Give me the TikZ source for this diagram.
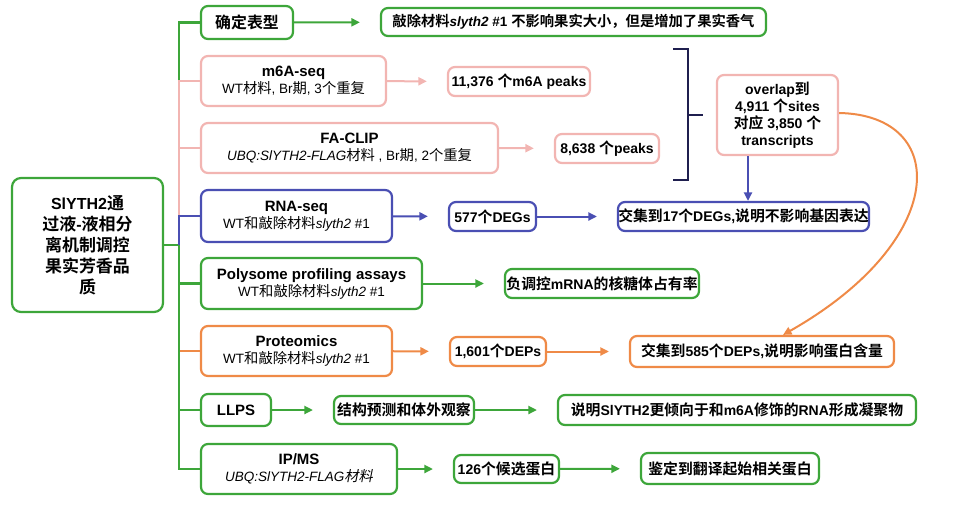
\documentclass[tikz,border=0pt]{standalone}
\usepackage{fontspec}
\setmainfont{Liberation Sans}
\newfontfamily\zhfont{Noto Sans CJK SC}[Scale=1.06, UprightFont=*, BoldFont=* Bold, ItalicFont=*, ItalicFeatures={FakeSlant=0.2}, BoldItalicFont=* Bold, BoldItalicFeatures={FakeSlant=0.2}]
\usetikzlibrary{arrows.meta}
\XeTeXinterchartokenstate=1
\newXeTeXintercharclass\zhclass
\newcount\zhc
\def\zhrange#1#2{\zhc=#1\relax\loop\XeTeXcharclass\zhc=\zhclass\ifnum\zhc<#2\advance\zhc by 1\repeat}
\zhrange{"4E00}{"9FFF}
\zhrange{"3000}{"303F}
\zhrange{"FF00}{"FFEF}
\XeTeXinterchartoks 0 \zhclass = {\zhfont}
\XeTeXinterchartoks 4095 \zhclass = {\zhfont}
\XeTeXinterchartoks \zhclass 0 = {\rmfamily}
\XeTeXinterchartoks \zhclass 4095 = {\rmfamily}
\definecolor{cg}{HTML}{3DA63A}
\definecolor{cp}{HTML}{F2B5B2}
\definecolor{cb}{HTML}{4A4FB3}
\definecolor{co}{HTML}{EF8A47}
\definecolor{cn}{HTML}{1F1F4F}
\tikzset{
  bx/.style={draw, line width=2.2pt, rounded corners=7pt, align=center, inner sep=0pt, fill=white, text=black},
  gbox/.style={bx, draw=cg},
  pbox/.style={bx, draw=cp},
  bbox/.style={bx, draw=cb},
  obox/.style={bx, draw=co},
  sz/.style 2 args={minimum width=#1, minimum height=#2},
  two/.style={font=\fontsize{13.5}{17}\selectfont},
  one/.style={font=\fontsize{15}{17}\selectfont\bfseries},
  res/.style={font=\fontsize{14}{17}\selectfont\bfseries},
  br/.style={line width=2.5pt},
  arr/.style={line width=2pt, -{Triangle[length=8.5pt,width=8pt]}, shorten >=20pt},
  tip/.style={line width=2pt, -{Triangle[length=8.5pt,width=8pt]}},
}
\newcommand{\hd}[1]{{\fontsize{15}{17}\selectfont\bfseries #1}}
\begin{document}
\begin{tikzpicture}[x=1pt,y=-1pt]
\useasboundingbox (0,0) rectangle (957,504);
% main nodes
\node[gbox, sz={151}{134}, rounded corners=9pt, font=\fontsize{16}{21}\selectfont\bfseries] (title) at (87.5,245) {SlYTH2通\\过液-液相分\\离机制调控\\果实芳香品\\质};
\node[gbox, one, sz={92}{33}] (n1) at (247,22.5) {确定表型};
\node[gbox, res, sz={385}{28}, font=\fontsize{13.5}{17}\selectfont\bfseries] (r1) at (573.5,22) {敲除材料\textit{slyth2} \#1 不影响果实大小，但是增加了果实香气};
\node[pbox, two, sz={185}{50}] (n2) at (293.5,81) {\hd{m6A-seq}\\WT材料, Br期, 3个重复};
\node[pbox, res, sz={142}{29}] (r2) at (519,81.5) {11,376 个m6A peaks};
\node[pbox, two, sz={297}{50}] (n3) at (349.5,148) {\hd{FA-CLIP}\\\textit{UBQ:SlYTH2-FLAG}材料 , Br期, 2个重复};
\node[pbox, res, sz={104}{29}] (r3) at (607,148.5) {8,638 个peaks};
\node[pbox, res, sz={121}{80}, font=\fontsize{14}{17}\selectfont\bfseries] (ov) at (777.5,115) {overlap到\\4,911 个sites\\对应 3,850 个\\transcripts};
\node[bbox, two, sz={191}{52}] (n4) at (296.5,216) {\hd{RNA-seq}\\WT和敲除材料\textit{slyth2} \#1};
\node[bbox, res, sz={87}{29}] (r4) at (492.5,216.5) {577个DEGs};
\node[bbox, res, sz={251}{29}] (r4b) at (743.5,216.5) {交集到17个DEGs,说明不影响基因表达};
\node[gbox, two, sz={221}{51}] (n5) at (311.5,283.5) {\hd{Polysome profiling assays}\\WT和敲除材料\textit{slyth2} \#1};
\node[gbox, res, sz={194}{29}] (r5) at (602,283.5) {负调控mRNA的核糖体占有率};
\node[obox, two, sz={191}{50}] (n6) at (296.5,351) {\hd{Proteomics}\\WT和敲除材料\textit{slyth2} \#1};
\node[obox, res, sz={96}{29}] (r6) at (498,351.5) {1,601个DEPs};
\node[obox, res, sz={264}{31}] (r6b) at (762,351.5) {交集到585个DEPs,说明影响蛋白含量};
\node[gbox, one, sz={70}{32}] (n7) at (236,410) {LLPS};
\node[gbox, res, sz={140}{28}] (r7) at (404,410) {结构预测和体外观察};
\node[gbox, res, sz={358}{30}] (r7b) at (737,410) {说明SlYTH2更倾向于和m6A修饰的RNA形成凝聚物};
\node[gbox, two, sz={196}{50}] (n8) at (299,469) {\hd{IP/MS}\\\textit{UBQ:SlYTH2-FLAG材料}};
\node[gbox, res, sz={105}{28}] (r8) at (506.5,469) {126个候选蛋白};
\node[gbox, res, sz={178}{31}] (r8b) at (730,468.5) {鉴定到翻译起始相关蛋白};
% trunk and branches
\coordinate (J) at (179,245);
\draw[cg, br] (title.east) -- (J);
\draw[cg, br] (J) |- (n1.west);
\draw[cp, br] (J) |- (n2.west);
\draw[cp, br] (J) |- (n3.west);
\draw[cb, br] (J) |- (n4.west);
\draw[cg, br] (J) |- (n5.west);
\draw[co, br] (J) |- (n6.west);
\draw[cg, br] (J) |- (n7.west);
\draw[cg, br] (J) |- (n8.west);
% arrows
\draw[cg, arr] (n1) -- (r1);
\draw[cp, arr] (n2) -- (r2);
\draw[cp, arr] (n3.east) -- (r3.west);
\draw[cb, arr] (n4) -- (r4);
\draw[cb, arr] (r4) -- (r4b);
\draw[cg, arr] (n5.east) -- (r5.west);
\draw[co, arr] (n6) -- (r6);
\draw[co, arr] (r6) -- (r6b);
\draw[cg, arr] (n7) -- (r7);
\draw[cg, arr] (r7) -- (r7b);
\draw[cg, arr] (n8) -- (r8);
\draw[cg, arr] (r8) -- (r8b);
% bracket
\draw[cn, line width=2.5pt] (673,49) -- (688,49) -- (688,180) -- (673,180);
\draw[cn, line width=2.5pt] (688,115) -- (703,115);
% overlap arrows
\draw[cb, tip] ([xshift=-29.5pt]ov.south) -- ([xshift=-29.5pt]ov.south |- r4b.north);
\draw[co, tip] ([yshift=2pt]ov.east) .. controls (950,115) and (950,240) .. ([xshift=21pt]r6b.north);
\end{tikzpicture}
\end{document}
